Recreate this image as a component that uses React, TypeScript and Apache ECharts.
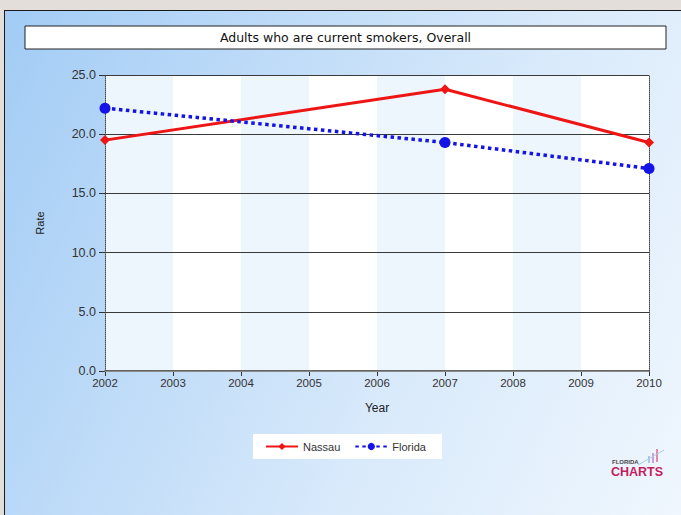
import React, { useEffect, useRef } from "react";
import * as echarts from "echarts";

const titleText = "Adults who are current smokers, Overall";
const years = [2002, 2007, 2010];
const nassau = [19.5, 23.8, 19.3];
const florida = [22.2, 19.3, 17.1];
const seriesNames = ["Nassau", "Florida"];
const yAxisName = "Rate";
const xAxisName = "Year";

export default function App() {
  const ref = useRef<HTMLDivElement>(null);
  useEffect(() => {
    if (!ref.current) return;
    const chart = echarts.init(ref.current, undefined, { renderer: "svg" });
    const font = "'Liberation Sans', Arial, sans-serif";
    chart.setOption({
      animation: false,
      backgroundColor: "transparent",
      grid: { left: 105, right: 32, top: 75, bottom: 144, containLabel: false },
      xAxis: [
        {
          type: "value",
          min: 2002,
          max: 2010,
          interval: 1,
          z: 0,
          name: xAxisName,
          nameLocation: "middle",
          nameGap: 31,
          nameTextStyle: { fontFamily: font, fontSize: 12, color: "#222" },
          axisLine: { show: true, lineStyle: { color: "#333", width: 1.5 } },
          axisTick: { show: true, length: 5, lineStyle: { color: "#333" } },
          axisLabel: { fontFamily: font, fontSize: 11.5, color: "#333", margin: 6, formatter: (v: number) => String(v) },
          splitLine: { show: false },
          splitArea: { show: true, areaStyle: { color: ["#edf5fd", "#ffffff"] } },
        },
        {
          type: "value",
          position: "top",
          min: 2002,
          max: 2010,
          z: 3,
          axisLine: { show: true, lineStyle: { color: "#8a8a8a", width: 1.2 } },
          axisTick: { show: false },
          axisLabel: { show: false },
          splitLine: { show: false },
        },
      ],
      yAxis: [
        {
          type: "value",
          min: 0,
          max: 25,
          interval: 5,
          z: 2,
          name: yAxisName,
          nameLocation: "middle",
          nameRotate: 90,
          nameGap: 60,
          nameTextStyle: { fontFamily: font, fontSize: 11, color: "#222" },
          axisLine: { show: true, lineStyle: { color: "#444", type: "dotted", width: 1 } },
          axisTick: { show: true, length: 6, lineStyle: { color: "#333" } },
          axisLabel: { fontFamily: font, fontSize: 12.5, color: "#333", margin: 9, formatter: (v: number) => v.toFixed(1) },
          splitLine: { show: true, lineStyle: { color: "#3a3a3a", width: 1 } },
        },
        {
          type: "value",
          position: "right",
          min: 0,
          max: 25,
          z: 2,
          axisLine: { show: true, lineStyle: { color: "#444", type: "dotted", width: 1 } },
          axisTick: { show: false },
          axisLabel: { show: false },
          splitLine: { show: false },
        },
      ],
      legend: {
        data: seriesNames,
        left: 253,
        top: 434,
        backgroundColor: "#ffffff",
        padding: [7, 16, 7, 12],
        itemWidth: 32,
        itemHeight: 9,
        itemGap: 14,
        textStyle: { fontFamily: font, fontSize: 11, color: "#333" },
      },
      graphic: [
        {
          type: "group",
          children: [
            {
              type: "rect",
              shape: { x: 25, y: 26, width: 641, height: 23 },
              style: { fill: "#ffffff", stroke: "#222", lineWidth: 1 },
            },
            {
              type: "text",
              x: 345.5,
              y: 37.5,
              style: {
                text: titleText,
                fill: "#111",
                font: "12.5px 'DejaVu Sans', Verdana, sans-serif",
                textAlign: "center",
                textVerticalAlign: "middle",
              },
            },
          ],
        },
        {
          type: "group",
          children: [
            { type: "rect", shape: { x: 656, y: 449, width: 2, height: 13 }, style: { fill: "#e08aa8" } },
            { type: "rect", shape: { x: 652, y: 453, width: 2, height: 10 }, style: { fill: "#c8a0d8" } },
            { type: "rect", shape: { x: 648, y: 456, width: 2, height: 7 }, style: { fill: "#a8c8e8" } },
            { type: "line", shape: { x1: 638, y1: 465, x2: 664, y2: 450 }, style: { stroke: "#b0c8e0", lineWidth: 1 } },
            {
              type: "text",
              x: 612,
              y: 459,
              style: { text: "FLORIDA", fill: "#444", font: "bold 6px 'Liberation Sans', Arial, sans-serif" },
            },
            {
              type: "text",
              x: 611,
              y: 465,
              style: { text: "CHARTS", fill: "#c41e5c", font: "bold 12.5px 'Liberation Sans', Arial, sans-serif" },
            },
          ],
        },
      ],
      series: [
        {
          name: seriesNames[0],
          type: "line",
          data: years.map((y, i) => [y, nassau[i]]),
          color: "#ee1515",
          symbol: "diamond",
          symbolSize: 10,
          lineStyle: { width: 3, color: "#ee1515" },
          itemStyle: { color: "#ee1515" },
          z: 3,
        },
        {
          name: seriesNames[1],
          type: "line",
          data: years.map((y, i) => [y, florida[i]]),
          color: "#1414e6",
          symbol: "circle",
          symbolSize: 11,
          lineStyle: { width: 3.5, color: "#1414e6", type: [3.5, 3.5] },
          itemStyle: { color: "#1414e6" },
          z: 4,
        },
      ],
    });
    return () => chart.dispose();
  }, []);
  return (
    <div style={{ position: "fixed", left: 0, top: 0, width: 681, height: 515, background: "#e4dedb", overflow: "hidden" }}>
      <div
        style={{
          position: "absolute",
          left: 4,
          top: 10,
          width: 700,
          height: 530,
          border: "1.5px solid #1a1a1a",
          background: "linear-gradient(115deg, #a2ccf5 0%, #bedbf8 30%, #d9eafb 60%, #f2f8fe 100%)",
        }}
      />
      <div ref={ref} style={{ position: "absolute", left: 0, top: 0, width: 681, height: 515 }} />
    </div>
  );
}
